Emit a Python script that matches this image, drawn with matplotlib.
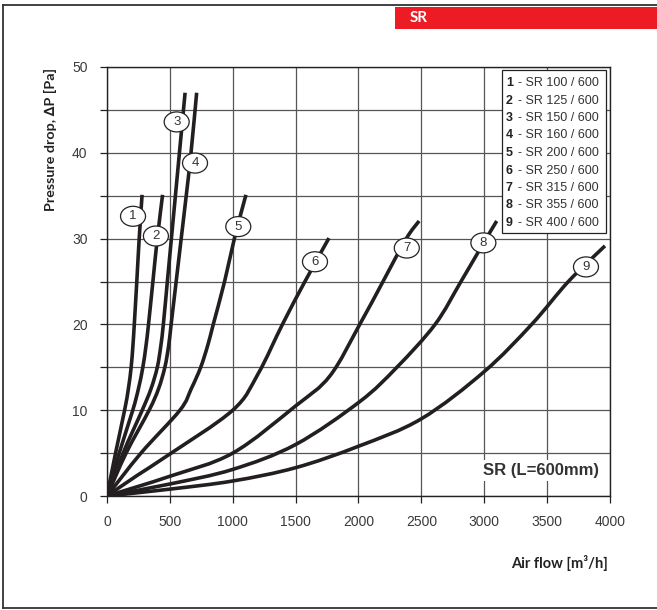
import matplotlib
matplotlib.use("Agg")
import matplotlib.pyplot as plt
from matplotlib.patches import Rectangle, Ellipse, PathPatch
from matplotlib.path import Path
from matplotlib.lines import Line2D

# ---------------- data ----------------
models = ["SR 100 / 600", "SR 125 / 600", "SR 150 / 600", "SR 160 / 600",
          "SR 200 / 600", "SR 250 / 600", "SR 315 / 600", "SR 355 / 600",
          "SR 400 / 600"]

q1 = [0, 68, 140, 170, 192, 206, 217, 237, 256, 279]
p1 = [0, 5, 10, 12.5, 15, 17.5, 20, 25, 30, 35.1]

q2 = [0, 97, 205, 250, 285, 310, 330, 365, 400, 442]
p2 = [0, 5, 10, 12.5, 15, 17.5, 20, 25, 30, 35.1]

q3 = [0, 128, 280, 350, 400, 428, 448, 480, 512, 544, 576, 621]
p3 = [0, 5, 10, 12.5, 15, 17.5, 20, 25, 30, 35, 40, 47]

q4 = [0, 152, 335, 410, 460, 490, 510, 550, 590, 630, 668, 713]
p4 = [0, 5, 10, 12.5, 15, 17.5, 20, 25, 30, 35, 40, 47]

q5 = [0, 270, 580, 670, 745, 800, 845, 935, 1013, 1105]
p5 = [0, 5, 10, 12.5, 15, 17.5, 20, 25, 30, 35.1]

q6 = [0, 240, 480, 1000, 1200, 1395, 1574, 1765]
p6 = [0, 2.4, 4.7, 10, 14.2, 20, 25, 30.06]

q7 = [0, 500, 1000, 1500, 1773, 2010, 2195, 2380, 2482]
p7 = [0, 2.3, 5.0, 10.5, 14.0, 20, 25, 30, 32.05]

q8 = [0, 500, 1000, 1500, 2010, 2305, 2609, 2815, 2995, 3099]
p8 = [0, 1.4, 3.1, 6.0, 11.0, 15, 20, 25, 29.5, 32.05]

q9 = [0, 500, 1000, 1500, 2000, 2500, 3000, 3377, 3669, 3960]
p9 = [0, 0.8, 1.75, 3.3, 5.8, 9.0, 14.5, 20, 25, 29.15]

curves_q = [q1, q2, q3, q4, q5, q6, q7, q8, q9]
curves_p = [p1, p2, p3, p4, p5, p6, p7, p8, p9]

# curve number label positions (flow, pressure)
label_q = [207, 389, 554, 700, 1044, 1654, 2384, 2993, 3809]
label_p = [32.6, 30.3, 43.6, 38.8, 31.4, 27.3, 28.9, 29.5, 26.7]

xticks = [0, 500, 1000, 1500, 2000, 2500, 3000, 3500, 4000]
yticks = [0, 10, 20, 30, 40, 50]
yminor = [5, 15, 25, 35, 45]

# ---------------- figure ----------------
W, H = 657, 610
fig = plt.figure(figsize=(W / 100, H / 100), dpi=100)
fig.patch.set_facecolor("white")

def fx(px):
    return px / W

def fy(py):
    return 1 - py / H

# outer frame lines and header
fig.add_artist(Line2D([fx(3), 1], [fy(5), fy(5)], color="#333333", lw=1.3))
fig.add_artist(Line2D([fx(3), fx(3)], [fy(5), fy(608)], color="#333333", lw=1.3))
fig.add_artist(Line2D([fx(3), 1], [fy(608), fy(608)], color="#333333", lw=1.3))
fig.add_artist(Rectangle((fx(395), fy(29)), 1 - fx(395), fy(7) - fy(29),
                         transform=fig.transFigure, facecolor="#ED1C24",
                         edgecolor="none"))
fig.text(fx(410), fy(18), "SR", color="white", fontsize=11, fontweight="bold",
         family="Lato", ha="left", va="center")

ax = fig.add_axes([fx(107), fy(496), fx(610) - fx(107), fy(67) - fy(496)])
ax.set_xlim(0, 4000)
ax.set_ylim(0, 50)
ax.set_xticks(xticks)
ax.set_yticks(yticks)
ax.set_yticks(yminor, minor=True)
ax.grid(True, which="both", axis="y", color="#555555", lw=0.9, zorder=0)
ax.grid(True, which="major", axis="x", color="#555555", lw=0.9, zorder=0)
ax.tick_params(axis="both", which="both", direction="out", length=5,
               width=0.9, color="#222222")
ax.tick_params(axis="y", which="major", pad=9)
ax.tick_params(axis="x", which="major", pad=9)
for lab in ax.get_xticklabels() + ax.get_yticklabels():
    lab.set_family("Liberation Sans")
    lab.set_fontsize(10)
    lab.set_color("#3a3a3a")
for s in ax.spines.values():
    s.set_color("#222222")
    s.set_linewidth(1.0)


def smooth_path(xs, ys):
    """Catmull-Rom curve through the read points, as cubic Bezier segments."""
    pts = list(zip(xs, ys))
    n = len(pts)
    verts = [pts[0]]
    codes = [Path.MOVETO]
    for i in range(n - 1):
        p0 = pts[i - 1] if i > 0 else pts[i]
        p1 = pts[i]
        p2 = pts[i + 1]
        p3 = pts[i + 2] if i + 2 < n else pts[i + 1]
        c1 = (p1[0] + (p2[0] - p0[0]) / 6, p1[1] + (p2[1] - p0[1]) / 6)
        c2 = (p2[0] - (p3[0] - p1[0]) / 6, p2[1] - (p3[1] - p1[1]) / 6)
        verts += [c1, c2, p2]
        codes += [Path.CURVE4] * 3
    return Path(verts, codes)


for q, p in zip(curves_q, curves_p):
    ax.add_patch(PathPatch(smooth_path(q, p), fill=False, edgecolor="#231F20",
                           lw=2.6, capstyle="butt", joinstyle="round",
                           zorder=3))

# curve number bubbles
ew = 25 * 4000 / 503
eh = 20 * 50 / 429
for i, (lq, lp) in enumerate(zip(label_q, label_p)):
    ax.add_patch(Ellipse((lq, lp), ew, eh, facecolor="white",
                         edgecolor="#222222", lw=0.9, zorder=5))
    ax.text(lq, lp, str(i + 1), ha="center", va="center", fontsize=9.5,
            family="Liberation Sans", color="#333333", zorder=6)

# legend box
bx0, bx1 = (502 - 107) / 503, (606 - 107) / 503
by0, by1 = (496 - 233) / 429, (496 - 70) / 429
ax.add_patch(Rectangle((bx0, by0), bx1 - bx0, by1 - by0, transform=ax.transAxes,
                       facecolor="white", edgecolor="#222222", lw=0.9, zorder=7))
for i, m in enumerate(models):
    ypx = 83 + i * 17.5
    yy = (496 - ypx) / 429
    ax.text((506 - 107) / 503, yy, str(i + 1), transform=ax.transAxes,
            fontsize=9, fontweight="bold", family="Liberation Sans",
            color="#222222", ha="left", va="center", zorder=8)
    ax.text((518 - 107) / 503, yy, "- " + m, transform=ax.transAxes,
            fontsize=9, family="Liberation Sans", color="#333333",
            ha="left", va="center", zorder=8)

# annotation
ax.text(3450, 3.0, "SR (L=600mm)", fontsize=12, fontweight="bold",
        family="Liberation Sans", color="#333333", ha="center", va="center",
        zorder=8, bbox=dict(facecolor="white", edgecolor="none", pad=2))

# axis titles
fig.text(fx(50), fy(139), "Pressure drop, \u2206P [Pa]", rotation=90,
         fontsize=10.3, fontweight="bold", family=["Lato", "DejaVu Sans"],
         color="#222222", ha="center", va="center")
fig.text(fx(560), fy(563), "Air flow [m\u00b3/h]", fontsize=10.5,
         fontweight="bold", family=["Lato", "DejaVu Sans"], color="#222222",
         ha="center", va="center")

fig.savefig("out.png", dpi=100)
